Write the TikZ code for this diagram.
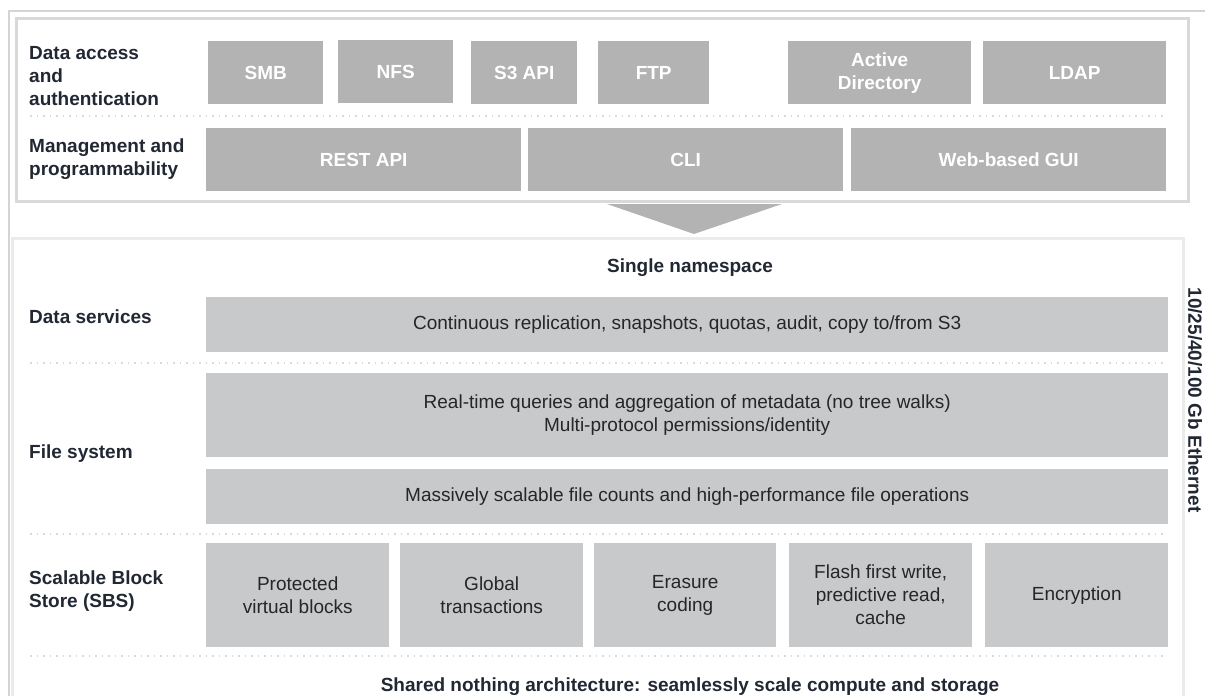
\documentclass[tikz,border=0pt]{standalone}
\usepackage{fontspec}
\setmainfont{Liberation Sans}
\usetikzlibrary{positioning}
\definecolor{topgray}{RGB}{179,179,179}
\definecolor{lowgray}{RGB}{199,201,202}
\definecolor{labelink}{RGB}{33,40,51}
\definecolor{framegray}{RGB}{212,212,212}

\begin{document}
\begin{tikzpicture}
[x=1pt, y=-1pt,
  every node/.style={inner sep=0pt, align=center, font=\fontsize{19}{23}\selectfont},
  toptile/.style={fill=topgray, text=white, font=\fontsize{19}{23}\selectfont\bfseries,
    anchor=north west, minimum height=63pt},
  lowtile/.style={fill=lowgray, text=black!85, anchor=north west},
  layer/.style={anchor=west, align=left, text=labelink, font=\fontsize{19}{23}\selectfont\bfseries},
  sep/.style={draw=black!15, line width=1.5pt, dash pattern=on 1.5pt off 5pt}]
  \useasboundingbox (0,0) rectangle (1205,696);
  % frames
  \draw[framegray, line width=2pt] (9,800) -- (9,11) -- (1300,11);
  \draw[black!15, line width=3pt] (16,18) rectangle (1188,201);
  \draw[black!8, line width=3pt] (12,238) rectangle (1183,800);
  \fill[topgray] (607,204) -- (782,204) -- (694,234) -- cycle;

  % access and management
  \node[layer] (access) at (29,76) {Data access\\and\\authentication};
  \node[layer] (mgmt) at (29,159) {Management and\\programmability};
  \node[toptile, minimum width=115pt] (smb) at (208,41) {SMB};
  \node[toptile, minimum width=115pt] (nfs) at (338,40) {NFS};
  \node[toptile, minimum width=106pt] (s3) at (471,41) {S3 API};
  \node[toptile, minimum width=111pt] (ftp) at (598,41) {FTP};
  \node[toptile, minimum width=183pt] (ad) at (788,41) {Active\\Directory};
  \node[toptile, minimum width=183pt] (ldap) at (983,41) {LDAP};
  \draw[sep] (30,116) -- (1166,116);
  \node[toptile, minimum width=315pt] (rest) at (206,128) {REST API};
  \node[toptile, minimum width=315pt] (cli) at (528,128) {CLI};
  \node[toptile, minimum width=315pt] (gui) at (851,128) {Web-based GUI};

  % storage layers
  \node[layer, anchor=center] (ns) at (690,268) {Single namespace};
  \node[layer] (svclabel) at (29,317) {Data services};
  \node[lowtile, minimum width=962pt, minimum height=55pt] (svc) at (206,297)
    {Continuous replication, snapshots, quotas, audit, copy to/from S3};
  \draw[sep] (30,363) -- (1166,363);
  \node[layer] (fslabel) at (29,454) {File system};
  \node[lowtile, minimum width=962pt, minimum height=84pt] (meta) at (206,373)
    {Real-time queries and aggregation of metadata (no tree walks)\\Multi-protocol permissions/identity};
  \node[lowtile, minimum width=962pt, minimum height=55pt] (ops) at (206,469)
    {Massively scalable file counts and high-performance file operations};
  \draw[sep] (30,534) -- (1166,534);
  \node[layer] (sbslabel) at (29,591) {Scalable Block\\Store (SBS)};
  \node[lowtile, minimum width=183pt, minimum height=104pt] (blocks) at (206,543) {Protected\\virtual blocks};
  \node[lowtile, minimum width=183pt, minimum height=104pt] (trans) at (400,543) {Global\\transactions};
  \node[lowtile, minimum width=182pt, minimum height=104pt] (erasure) at (594,543) {Erasure\\coding};
  \node[lowtile, minimum width=183pt, minimum height=104pt] (flash) at (789,543) {Flash first write,\\predictive read,\\cache};
  \node[lowtile, minimum width=183pt, minimum height=104pt] (crypt) at (985,543) {Encryption};
  \draw[sep] (30,656) -- (1166,656);
  \node[layer, anchor=base] (shared) at (690,691) {Shared nothing architecture: seamlessly scale compute and storage};
  \node[layer, anchor=center, rotate=-90] (eth) at (1195,400) {10/25/40/100 Gb Ethernet};
\end{tikzpicture}
\end{document}
